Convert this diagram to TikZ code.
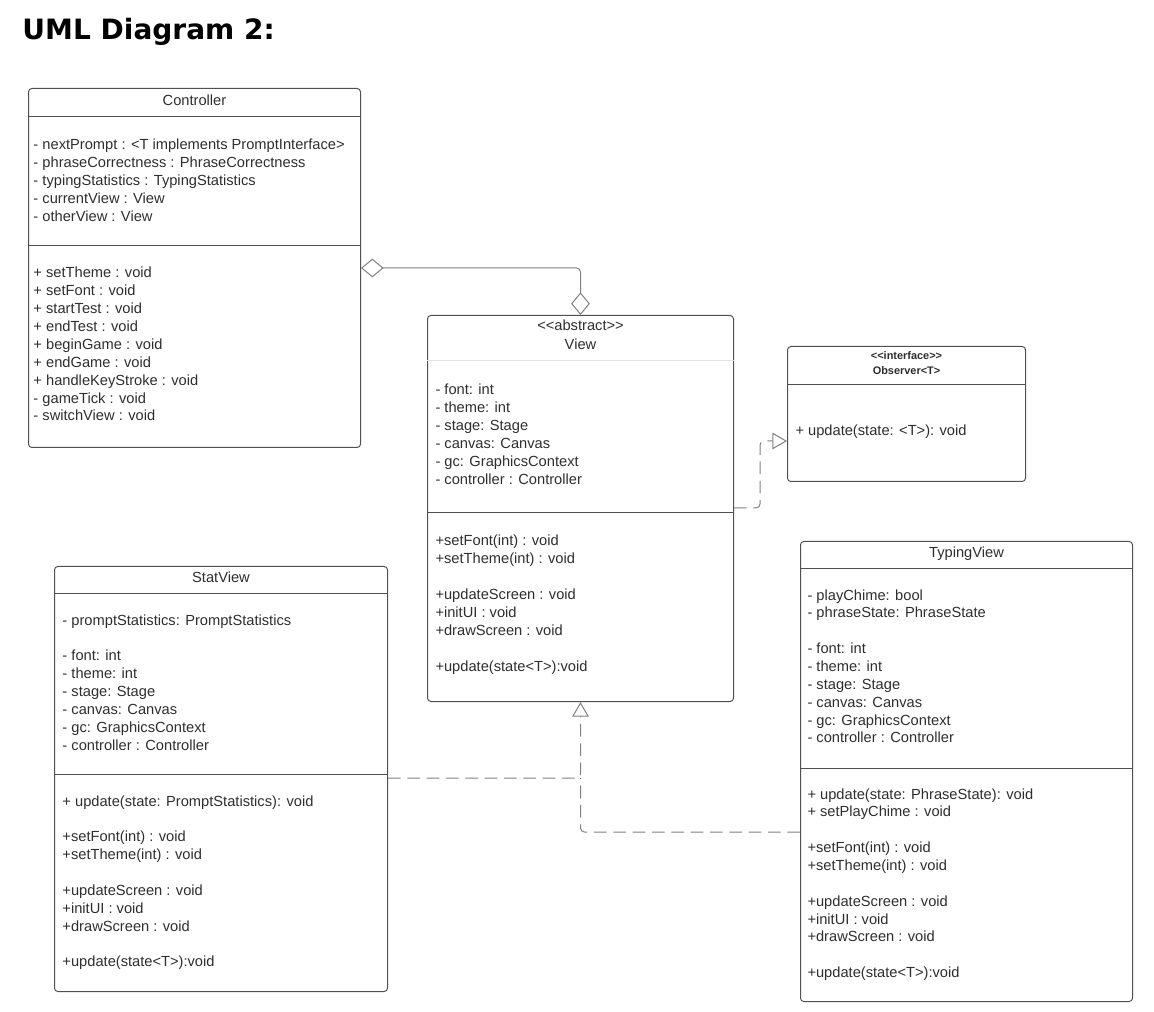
\documentclass[tikz,border=0pt]{standalone}
\usepackage{fontspec}
\setmainfont{Liberation Sans}
\newfontfamily\headfont{DejaVu Sans}
\usepackage{tikz}
\usetikzlibrary{arrows.meta}
\tikzset{every picture/.append style={font=\fontsize{11}{13.4}\selectfont}}
\definecolor{umlline}{HTML}{505050}
\definecolor{umltext}{HTML}{2E2E2E}
\definecolor{umlconn}{HTML}{808080}
\definecolor{umlfaint}{HTML}{E3E3E3}
\newcommand{\classrows}[1]{\begin{tabular}[t]{@{}l@{}}#1\end{tabular}}
\newcommand{\classhead}[1]{\begin{tabular}[t]{@{}c@{}}#1\end{tabular}}
\tikzset{
  classbox/.style={draw=umlline,rounded corners=2.5pt,inner sep=0pt,anchor=north west},
  boxsize/.style 2 args={minimum width=#1*0.75pt,minimum height=#2*0.75pt},
  ctitle/.style={anchor=base,inner sep=0pt,text=umltext},
  members/.style={anchor=base west,inner sep=0pt,text=umltext},
  sep/.style={draw=umlline},
  agg/.style={draw=umlconn,rounded corners=3pt,
    {Diamond[open,length=17pt,width=14pt]}-{Diamond[open,length=17pt,width=14pt]}},
  realize/.style={draw=umlconn,dash pattern=on 9.5pt off 5pt,rounded corners=3pt},
  realtip/.style={-{Triangle[open,length=11pt,width=12.5pt]}}
}

\begin{document}
\begin{tikzpicture}[x=0.75pt,y=-0.75pt,line width=0.75pt]
  \useasboundingbox (0,0) rectangle (1154,1012);
  \node[anchor=base west,inner sep=0pt,font=\headfont\fontsize{21}{25}\selectfont\bfseries] (heading) at (22,40) {UML Diagram 2:};

  % Controller
  \node[classbox,boxsize={332}{359}] (ctrl) at (28,88) {};
  \node[ctitle] (ctrlname) at (ctrl.north |- 0,106) {Controller};
  \draw[sep] (ctrl.west |- 0,117) -- (ctrl.east |- 0,117);
  \node[members] (ctrlattr) at (33,150) {\classrows{- nextPrompt : <T implements PromptInterface>\\
    - phraseCorrectness : PhraseCorrectness\\
    - typingStatistics : TypingStatistics\\
    - currentView : View\\
    - otherView : View}};
  \draw[sep] (ctrl.west |- 0,246) -- (ctrl.east |- 0,246);
  \node[members] (ctrlops) at (33,278) {\classrows{+ setTheme : void\\
    + setFont : void\\
    + startTest : void\\
    + endTest : void\\
    + beginGame : void\\
    + endGame : void\\
    + handleKeyStroke : void\\
    - gameTick : void\\
    - switchView : void}};

  % View
  \node[classbox,boxsize={306}{386}] (view) at (427,315) {};
  \node[ctitle,font=\fontsize{11}{14.2}\selectfont] (viewname) at (view.north |- 0,331) {\classhead{<{}<abstract>{}>\\View}};
  \draw[umlfaint] (view.west |- 0,361) -- (view.east |- 0,361);
  \node[members] (viewattr) at (435,395) {\classrows{- font: int\\
    - theme: int\\
    - stage: Stage\\
    - canvas: Canvas\\
    - gc: GraphicsContext\\
    - controller : Controller}};
  \draw[sep] (view.west |- 0,513) -- (view.east |- 0,513);
  \node[members] (viewops) at (435,546) {\classrows{+setFont(int) : void\\
    +setTheme(int) : void\\[13.4pt]
    +updateScreen : void\\
    +initUI : void\\
    +drawScreen : void\\[13.4pt]
    +update(state<T>):void}};

  % Observer
  \node[classbox,boxsize={238}{135}] (obs) at (787,346) {};
  \node[ctitle,font=\fontsize{8.2}{11.25}\selectfont\bfseries] (obsname) at (obs.north |- 0,360) {\classhead{<{}<interface>{}>\\Observer<T>}};
  \draw[sep] (obs.west |- 0,385) -- (obs.east |- 0,385);
  \node[members] (obsops) at (795,436) {+ update(state: <T>): void};

  % StatView
  \node[classbox,boxsize={333}{425}] (stat) at (54,566) {};
  \node[ctitle] (statname) at (stat.north |- 0,583) {StatView};
  \draw[sep] (stat.west |- 0,594) -- (stat.east |- 0,594);
  \node[members] (statattr) at (62,625) {\classrows{- promptStatistics: PromptStatistics\\[13.4pt]
    - font: int\\
    - theme: int\\
    - stage: Stage\\
    - canvas: Canvas\\
    - gc: GraphicsContext\\
    - controller : Controller}};
  \draw[sep] (stat.west |- 0,774) -- (stat.east |- 0,774);
  \node[members] (statops) at (62,806) {\classrows{+ update(state: PromptStatistics): void\\[13.4pt]
    +setFont(int) : void\\
    +setTheme(int) : void\\[13.4pt]
    +updateScreen : void\\
    +initUI : void\\
    +drawScreen : void\\[13.4pt]
    +update(state<T>):void}};

  % TypingView
  \node[classbox,boxsize={332}{460}] (typing) at (800,541) {};
  \node[ctitle] (typingname) at (typing.north |- 0,558) {TypingView};
  \draw[sep] (typing.west |- 0,569) -- (typing.east |- 0,569);
  \node[members] (typingattr) at (807,600) {\classrows{- playChime: bool\\
    - phraseState: PhraseState\\[13.4pt]
    - font: int\\
    - theme: int\\
    - stage: Stage\\
    - canvas: Canvas\\
    - gc: GraphicsContext\\
    - controller : Controller}};
  \draw[sep] (typing.west |- 0,768) -- (typing.east |- 0,768);
  \node[members] (typingops) at (807,799) {\classrows{+ update(state: PhraseState): void\\
    + setPlayChime : void\\[13.4pt]
    +setFont(int) : void\\
    +setTheme(int) : void\\[13.4pt]
    +updateScreen : void\\
    +initUI : void\\
    +drawScreen : void\\[13.4pt]
    +update(state<T>):void}};

  % connectors
  \draw[agg] (ctrl.east |- 0,268) -| (view.north);
  \draw[realize,realtip] (view.east |- 0,508) -- (760,508) |- (obs.west |- 0,441);
  \draw[realize,realtip] (stat.east |- 0,778) -| (view.south);
  \draw[realize] (typing.west |- 0,832) -| (view.south |- 0,778);
\end{tikzpicture}
\end{document}
